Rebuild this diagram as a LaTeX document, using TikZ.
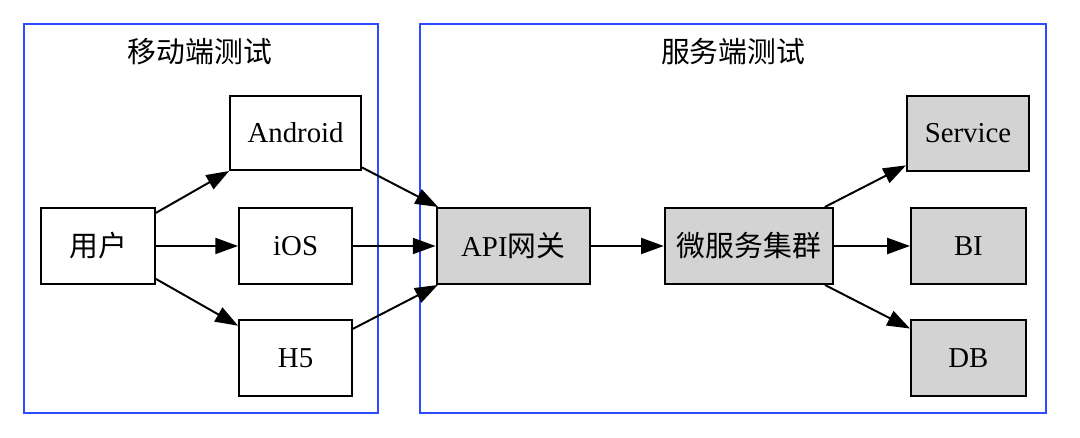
\documentclass[tikz,border=0pt]{standalone}
\usepackage{fontspec}
\setmainfont{Liberation Serif}
\newfontfamily\cjk{Noto Sans CJK SC}
\usetikzlibrary{arrows.meta}
\definecolor{clusterblue}{RGB}{45,75,255}
\definecolor{boxgray}{RGB}{211,211,211}
\tikzset{
  box/.style={draw, line width=1.4pt, inner sep=0pt, minimum height=1.9cm, font=\fontsize{20.5}{24}\selectfont},
  gbox/.style={box, fill=boxgray},
  cluster/.style={draw=clusterblue, line width=1.4pt},
  title/.style={font=\fontsize{20.5}{24}\selectfont},
}
\begin{document}
\begin{tikzpicture}[>={Triangle[length=0.57cm,width=0.4cm]}, line width=1.4pt]
\useasboundingbox (0,0) rectangle (27,10.95);
\begin{scope}
\draw[cluster] (0.6,0.625) rectangle (9.45,10.35);
\node[title] (mobile) at (5,9.65) {\cjk 移动端测试};
\node[box, minimum width=2.85cm] (user) at (2.45,4.8) {\cjk 用户};
\node[box, minimum width=3.275cm, minimum height=1.85cm] (android) at (7.39,7.625) {Android};
\node[box, minimum width=2.825cm] (ios) at (7.39,4.8) {iOS};
\node[box, minimum width=2.825cm] (h5) at (7.39,1.99) {H5};
\end{scope}
\begin{scope}
\draw[cluster] (10.49,0.625) rectangle (26.15,10.35);
\node[title] (server) at (18.33,9.65) {\cjk 服务端测试};
\node[gbox, minimum width=3.83cm] (api) at (12.83,4.8) {API{\cjk 网关}};
\node[gbox, minimum width=4.2cm] (micro) at (18.72,4.8) {\cjk 微服务集群};
\node[gbox, minimum width=3.05cm, minimum height=1.875cm] (service) at (24.2,7.61) {Service};
\node[gbox, minimum width=2.87cm] (bi) at (24.21,4.8) {BI};
\node[gbox, minimum width=2.87cm] (db) at (24.21,1.99) {DB};
\end{scope}
\foreach \a/\b in {user/android,user/ios,user/h5,android/api,ios/api,h5/api,api/micro,micro/service,micro/bi,micro/db}
{
    \draw[->] (\a)--(\b);
}
\end{tikzpicture}
\end{document}
